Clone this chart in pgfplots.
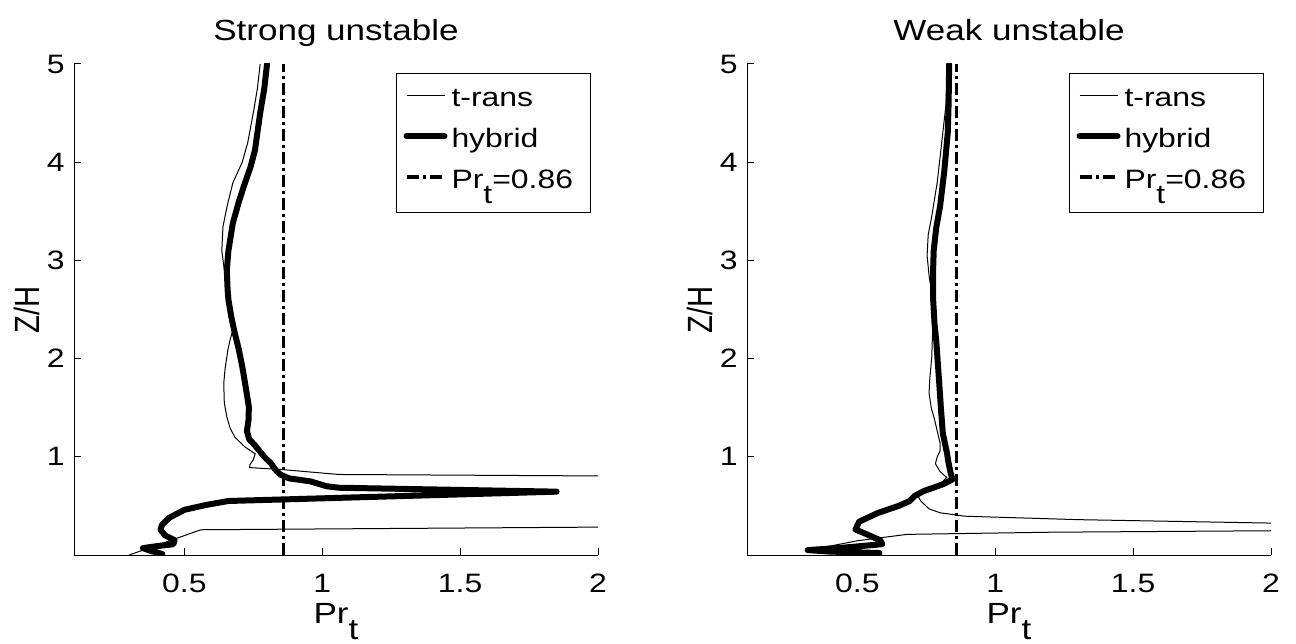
\documentclass[border=0pt]{standalone}
\usepackage{fontspec}
\setmainfont[FakeStretch=1.2]{Liberation Sans}
\newfontfamily\plainfont{Liberation Sans}
\usepackage{pgfplots}
\pgfplotsset{compat=1.18}
\newcommand\sub[1]{\raisebox{-0.55em}{#1}}
\newcommand\lentry[1]{\makebox[66pt][l]{#1}}
\newcommand\tickfont{\fontsize{13.3pt}{15pt}\selectfont}
\newcommand\labfont{\fontsize{14.6pt}{17pt}\selectfont}

\pgfplotstableread{
x y
0.775 5.0
0.765 4.75
0.75 4.5
0.73 4.2
0.71 4.0
0.676 3.79
0.655 3.55
0.64 3.34
0.636 3.1
0.645 2.9
0.654 2.77
0.667 2.5
0.676 2.29
0.665 2.18
0.658 2.09
0.648 1.9
0.643 1.75
0.645 1.55
0.654 1.41
0.665 1.3
0.683 1.2
0.72 1.1
0.757 1.03
0.75 0.97
0.738 0.92
0.737 0.89
0.855 0.87
1.06 0.82
2.0 0.805
5.0 0.80
5.0 0.29
2.0 0.284
0.56 0.257
0.30 0.0
}\stransA

\pgfplotstableread{
x y
0.80 5.0
0.79 4.75
0.775 4.5
0.756 4.12
0.74 3.95
0.72 3.79
0.698 3.6
0.676 3.38
0.66 3.1
0.654 2.9
0.657 2.7
0.66 2.6
0.67 2.43
0.683 2.26
0.697 2.1
0.71 1.92
0.722 1.72
0.734 1.51
0.733 1.38
0.727 1.26
0.735 1.18
0.755 1.12
0.79 1.0
0.815 0.93
0.83 0.87
0.847 0.82
0.88 0.78
0.957 0.75
1.016 0.70
1.06 0.685
1.85 0.645
0.66 0.55
0.58 0.51
0.50 0.46
0.446 0.38
0.42 0.31
0.413 0.26
0.43 0.20
0.465 0.15
0.46 0.11
0.40 0.09
0.35 0.07
0.38 0.04
0.42 0.01
}\shybA

\pgfplotstableread{
x y
0.826 5.0
0.822 4.6
0.81 4.3
0.79 3.8
0.77 3.45
0.757 3.26
0.753 3.05
0.76 2.85
0.773 2.6
0.775 2.4
0.772 2.2
0.77 2.02
0.763 1.8
0.76 1.65
0.768 1.5
0.78 1.38
0.80 1.14
0.80 1.06
0.79 1.0
0.783 0.93
0.80 0.85
0.824 0.79
0.80 0.72
0.745 0.655
0.72 0.60
0.73 0.55
0.76 0.47
0.80 0.43
0.89 0.395
1.3 0.36
2.0 0.325
5.0 0.31
5.0 0.25
2.0 0.247
1.2 0.232
0.68 0.21
0.5 0.145
0.40 0.09
0.32 0.045
}\wtransA

\pgfplotstableread{
x y
0.833 5.0
0.831 4.6
0.828 4.3
0.815 3.9
0.80 3.55
0.786 3.33
0.777 3.1
0.775 2.92
0.775 2.6
0.78 2.35
0.786 2.19
0.792 1.95
0.797 1.75
0.803 1.5
0.81 1.24
0.825 1.04
0.83 0.95
0.838 0.84
0.845 0.77
0.81 0.72
0.74 0.65
0.707 0.60
0.69 0.55
0.65 0.50
0.576 0.43
0.507 0.34
0.493 0.26
0.535 0.21
0.583 0.15
0.59 0.11
0.45 0.075
0.32 0.05
0.40 0.035
0.58 0.02
}\whybA

\pgfplotstableread{
x y
0.86 0
0.86 5
}\prline

\begin{document}
\tickfont
\begin{tikzpicture}
\useasboundingbox (0pt,0pt) rectangle (648pt,321.5pt);
\pgfplotsset{
  myax/.style={
    scale only axis, width=262pt, height=245.5pt,
    xmin=0.1, xmax=2, ymin=0, ymax=5,
    xtick={0.5,1,1.5,2}, ytick={1,2,3,4,5},
    axis x line*=bottom, axis y line*=left,
    tick align=inside, major tick length=3.5pt,
    every tick/.style={black, line width=0.5pt},
    axis line style={black, line width=0.5pt},
    /pgf/number format/assume math mode=true,
    tick label style={font=\tickfont},
    xticklabel style={anchor=base, yshift=-18.5pt},
    title style={at={(axis description cs:0.5,1)}, anchor=base, yshift=5.5pt, font=\labfont},
    xlabel={Pr\sub{t}},
    xlabel style={at={(axis description cs:0.5,0)}, anchor=base, yshift=-34pt, font=\labfont},
    ylabel={\scalebox{1}[1.2]{\plainfont Z/H}},
    ylabel style={at={(axis description cs:-0.066,0.5)}, anchor=base, font=\labfont},
    legend style={at={(axis description cs:1,1)}, anchor=north east, xshift=-3.5pt, yshift=-4.5pt,
      draw=black, line width=0.5pt, inner xsep=3.5pt, inner ysep=4.1pt,
      row sep=0pt, column sep=2pt,
      nodes={inner sep=0pt, text height=12.5pt, text depth=8pt},
      font=\tickfont},
    legend cell align=left,
    legend image code/.code={\draw[#1] (0pt,3.5pt) -- (19pt,3.5pt);},
    trans/.style={black, line width=0.5pt},
    hyb/.style={black, line width=3pt, line join=round, line cap=round},
    prt/.style={black, line width=1.8pt, dash pattern=on 6pt off 2pt on 1.5pt off 2pt},
  }
}
\begin{axis}[myax, at={(37pt,44pt)}, anchor=south west, title={Strong unstable}]
\addplot[trans] table {\stransA};
\addplot[hyb] table {\shybA};
\addplot[prt] table {\prline};
\legend{\lentry{t-rans},\lentry{hybrid},\lentry{Pr\sub{t}=0.86}}
\end{axis}
\begin{axis}[myax, at={(373.5pt,44pt)}, anchor=south west, title={Weak unstable}]
\addplot[trans] table {\wtransA};
\addplot[hyb] table {\whybA};
\addplot[prt] table {\prline};
\legend{\lentry{t-rans},\lentry{hybrid},\lentry{Pr\sub{t}=0.86}}
\end{axis}
\end{tikzpicture}
\end{document}
